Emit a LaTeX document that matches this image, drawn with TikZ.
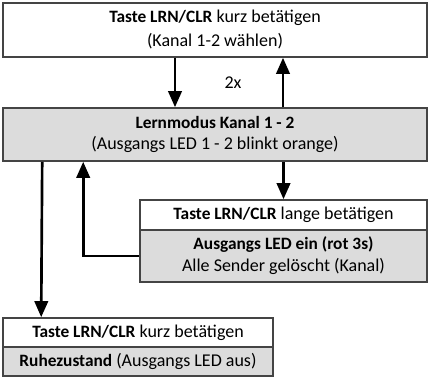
\documentclass[tikz,border=0pt]{standalone}
\usepackage{fontspec}
\setmainfont{Carlito}
\usetikzlibrary{arrows.meta}
\usetikzlibrary{calc}
\definecolor{boxgray}{HTML}{DCDCDC}
\definecolor{boxline}{HTML}{444444}
\newcommand{\keyword}[1]{{\fontsize{13}{13}\bfseries #1}}
\tikzstyle{state}=[draw=boxline, line width=1.2pt, inner sep=0pt, align=center, font=\fontsize{13.5}{16}\selectfont]
\tikzstyle{action}=[state, fill=white]
\tikzstyle{mode}=[state, fill=boxgray]
\tikzstyle{flow}=[line width=2pt, -{Triangle[length=12pt, width=10pt]}]

\begin{document}
\begin{tikzpicture}[x=0.75pt, y=-0.75pt]
      \useasboundingbox (0, 0) rectangle (429, 378);
      \node[action, minimum width=424*0.75pt, minimum height=54*0.75pt, font=\fontsize{13.5}{18}\selectfont] (kurz) at (215, 30)
        {\keyword{Taste LRN/CLR} kurz betätigen\\(Kanal 1-2 wählen)};
      \node[mode, minimum width=424*0.75pt, minimum height=53*0.75pt] (lern) at (215, 134.5)
        {\keyword{Lernmodus Kanal 1 - 2}\\(Ausgangs LED 1 - 2 blinkt orange)};
      \node[action, minimum width=287*0.75pt, minimum height=30*0.75pt] (lang) at (283.5, 215)
        {\keyword{Taste LRN/CLR} lange betätigen};
      \node[mode, minimum width=287*0.75pt, minimum height=52*0.75pt, font=\fontsize{13.5}{16.5}\selectfont] (loesch) at (283.5, 256)
        {\keyword{Ausgangs LED ein (rot 3s)}\\Alle Sender gelöscht (Kanal)};
      \node[action, minimum width=270*0.75pt, minimum height=29*0.75pt] (ende) at (138, 332.5)
        {\keyword{Taste LRN/CLR} kurz betätigen};
      \node[mode, minimum width=270*0.75pt, minimum height=29*0.75pt] (ruhe) at (138, 361.5)
        {\keyword{Ruhezustand} (Ausgangs LED aus)};
      \node[font=\fontsize{13.5}{16}\selectfont] (zweimal) at (233, 83) {2x};
      \draw[flow] ($(kurz.south)+(-40, 0)$) -- ($(lern.north)+(-40, 0)$);
      \draw[flow] ($(lern.north)+(68, 0)$) -- ($(kurz.south)+(68, 0)$);
      \draw[flow] (lern.south -| lang.north) -- (lang.north);
      \draw[flow] (loesch.west) -| ($(lern.south west)+(81, 0)$);
      \draw[flow] ($(lern.south west)+(40, 0)$) -- ($(ende.north west)+(39, 0)$);
    \end{tikzpicture}
\end{document}
